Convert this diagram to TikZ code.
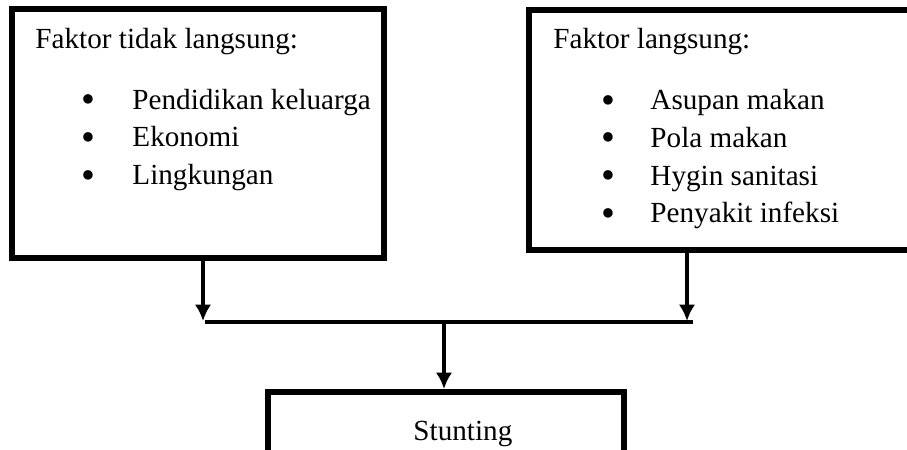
\documentclass[tikz,border=0pt]{standalone}
\usepackage{fontspec}
\setmainfont{Liberation Serif}
\usetikzlibrary{
  arrows.meta
}
\tikzset{
  kotak/.style={draw, rectangle, line width=2.6pt, inner sep=0pt},
  garis/.style={line width=1.9pt},
  teks/.style={anchor=base west, inner sep=0pt, font=\fontsize{12.5}{15}\selectfont},
  titik/.style={anchor=base, inner sep=0pt, font=\fontsize{17}{17}\selectfont}
}

\begin{document}
\begin{tikzpicture}[>={Latex[length=7pt,width=7pt]}, x=0.4286pt, y=-0.4286pt]
\useasboundingbox (0,0) rectangle (907,450);
\clip (0,0) rectangle (907,450);
\node[kotak, minimum width=159.4pt, minimum height=106.7pt] (tidak) at (198,133.5) {};
\node[kotak, minimum width=171.4pt, minimum height=102.9pt] (langsung) at (729,130) {};
\node[kotak, minimum width=152.8pt, minimum height=33.4pt] (stunting) at (446,431) {};

\node[teks] (judul-tidak) at (35,49) {Faktor tidak langsung:};
\foreach \t [count=\i] in {Pendidikan keluarga, Ekonomi, Lingkungan} {
  \node[titik] (titik-tidak-\i) at (88,{75.5+37.5*\i}) {\textbullet};
  \node[teks] (butir-tidak-\i) at (132,{72+37.5*\i}) {\t};
}
\node[teks] (judul-langsung) at (553,49) {Faktor langsung:};
\foreach \t [count=\i] in {Asupan makan, Pola makan, Hygin sanitasi, Penyakit infeksi} {
  \node[titik] (titik-langsung-\i) at (608,{76+37.5*\i}) {\textbullet};
  \node[teks] (butir-langsung-\i) at (650,{72.5+37.5*\i}) {\t};
}
\node[teks] (label-stunting) at (413,440) {Stunting};

\coordinate (kiri) at (203,321);
\coordinate (kanan) at (687,321);
\coordinate (garis-a) at (205,322);
\coordinate (garis-b) at (693,322);
\coordinate (tengah) at (444,322);
\draw[garis,->] (tidak.south -| kiri) -- (kiri);
\draw[garis,->] (langsung.south -| kanan) -- (kanan);
\draw[garis] (garis-a) -- (garis-b);
\draw[garis,->] (tengah) -- (stunting.north -| tengah);
\end{tikzpicture}
\end{document}
